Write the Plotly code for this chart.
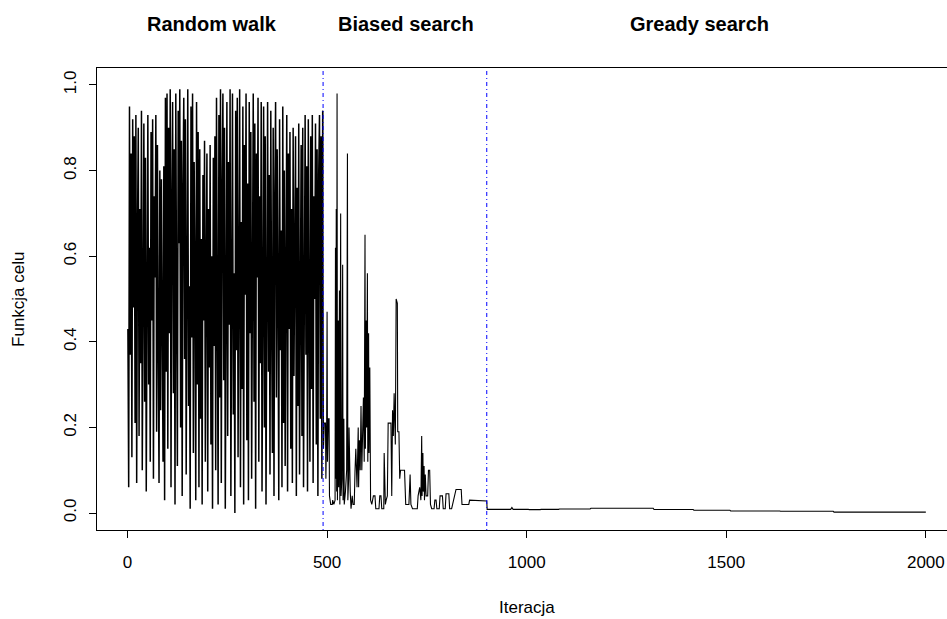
import plotly.graph_objects as go

# ---- data -------------------------------------------------------------
# Random walk phase: iterations 1..489 (every 2nd iteration)
rw_iter = list(range(1, 490, 2))
rw_val = [
    0.43, 0.06, 0.95, 0.37, 0.84, 0.13, 0.92, 0.48, 0.88, 0.21,
    0.93, 0.07, 0.66, 0.90, 0.18, 0.71, 0.35, 0.94, 0.10, 0.58,
    0.91, 0.26, 0.83, 0.05, 0.77, 0.93, 0.30, 0.62, 0.12, 0.89,
    0.45, 0.92, 0.08, 0.74, 0.55, 0.93, 0.19, 0.86, 0.40, 0.07,
    0.80, 0.24, 0.78, 0.51, 0.12, 0.81, 0.03, 0.97, 0.33, 0.98,
    0.15, 0.90, 0.42, 0.99, 0.06, 0.72, 0.96, 0.28, 0.85, 0.02,
    0.98, 0.47, 0.11, 0.94, 0.63, 0.99, 0.20, 0.87, 0.04, 0.76,
    0.97, 0.36, 0.92, 0.09, 0.68, 0.99, 0.25, 0.53, 0.01, 0.95,
    0.41, 0.98, 0.14, 0.82, 0.57, 0.03, 0.96, 0.30, 0.89, 0.06,
    0.85, 0.22, 0.64, 0.02, 0.79, 0.45, 0.87, 0.12, 0.58, 0.84,
    0.05, 0.71, 0.34, 0.86, 0.16, 0.60, 0.01, 0.83, 0.39, 0.88,
    0.10, 0.97, 0.48, 0.02, 0.93, 0.27, 0.99, 0.07, 0.75, 0.98,
    0.31, 0.90, 0.01, 0.66, 0.96, 0.18, 0.82, 0.44, 0.99, 0.04,
    0.72, 0.98, 0.23, 0.56, 0.00, 0.94, 0.38, 0.97, 0.13, 0.81,
    0.99, 0.06, 0.68, 0.29, 0.95, 0.02, 0.86, 0.51, 0.98, 0.17,
    0.77, 0.03, 0.96, 0.42, 0.89, 0.08, 0.63, 0.98, 0.26, 0.91,
    0.01, 0.84, 0.55, 0.97, 0.12, 0.74, 0.35, 0.96, 0.05, 0.69,
    0.95, 0.20, 0.88, 0.02, 0.60, 0.96, 0.33, 0.79, 0.09, 0.94,
    0.46, 0.14, 0.90, 0.04, 0.73, 0.96, 0.27, 0.85, 0.52, 0.03,
    0.92, 0.38, 0.66, 0.06, 0.95, 0.21, 0.80, 0.11, 0.57, 0.93,
    0.05, 0.84, 0.43, 0.89, 0.15, 0.71, 0.07, 0.90, 0.32, 0.62,
    0.88, 0.04, 0.76, 0.25, 0.91, 0.09, 0.55, 0.86, 0.18, 0.90,
    0.06, 0.67, 0.93, 0.37, 0.81, 0.05, 0.92, 0.47, 0.12, 0.88,
    0.29, 0.93, 0.07, 0.74, 0.50, 0.91, 0.16, 0.85, 0.04, 0.79,
    0.93, 0.22, 0.88, 0.08, 0.94,
]

# Biased search phase
bs_iter = [491, 493, 496, 497, 499, 500, 501, 503, 505, 506, 509, 513, 514, 517, 520,
           521, 522, 523, 524, 525, 526, 528, 529, 531, 532, 534, 535, 537, 539, 540,
           542, 543, 546, 549, 551, 552, 554, 555, 556, 558, 560, 563, 565, 568, 570,
           572, 575, 578, 579, 581, 583, 585, 587, 589, 591, 593, 595, 596, 598, 599,
           601, 602, 604, 605, 607, 609, 612, 616, 620, 622, 630, 632, 635, 637, 642,
           643, 646, 648, 651, 653, 660, 662, 664, 666, 668, 671, 673, 676, 677, 680,
           682, 684, 694, 697, 702, 705, 708, 710, 714, 722, 726, 728, 732, 735, 737,
           738, 740, 741, 743, 744, 746, 748, 752, 754, 757, 759, 762, 768, 770, 773,
           775, 781, 783, 787, 789, 791, 796, 798, 805, 807, 812, 823, 836, 838, 855,
           857, 900]
bs_val = [0.15, 0.21, 0.21, 0.08, 0.21, 0.47, 0.12, 0.22, 0.22, 0.04, 0.02, 0.02, 0.03, 0.02, 0.03,
          0.62, 0.08, 0.71, 0.05, 0.98, 0.03, 0.45, 0.06, 0.52, 0.02, 0.70, 0.04, 0.08, 0.58, 0.03,
          0.22, 0.02, 0.05, 0.10, 0.84, 0.03, 0.08, 0.20, 0.08, 0.05, 0.01, 0.04, 0.02, 0.02, 0.10,
          0.15, 0.06, 0.20, 0.06, 0.17, 0.10, 0.25, 0.10, 0.20, 0.27, 0.12, 0.65, 0.15, 0.45, 0.20,
          0.56, 0.12, 0.42, 0.14, 0.34, 0.03, 0.02, 0.04, 0.04, 0.01, 0.01, 0.04, 0.04, 0.01, 0.01,
          0.14, 0.02, 0.03, 0.04, 0.21, 0.21, 0.04, 0.24, 0.18, 0.28, 0.16, 0.50, 0.49, 0.19, 0.19,
          0.08, 0.10, 0.10, 0.02, 0.02, 0.02, 0.09, 0.02, 0.01, 0.01, 0.01, 0.04, 0.06, 0.03, 0.18,
          0.04, 0.14, 0.05, 0.11, 0.03, 0.09, 0.04, 0.04, 0.10, 0.10, 0.02, 0.01, 0.01, 0.03, 0.03,
          0.01, 0.01, 0.04, 0.04, 0.04, 0.01, 0.01, 0.045, 0.045, 0.01, 0.01, 0.055, 0.055, 0.02, 0.02,
          0.03, 0.028]

# Greedy search phase
gs_iter = [901, 960, 963, 966, 1004, 1006, 1034, 1036, 1080, 1082, 1159, 1161, 1317, 1319,
           1417, 1419, 1509, 1511, 1634, 1636, 1768, 1770, 2000]
gs_val = [0.0086, 0.0086, 0.013, 0.0086, 0.0086, 0.0080, 0.0080, 0.0085, 0.0085, 0.0093,
          0.0093, 0.011, 0.011, 0.0082, 0.0082, 0.0066, 0.0066, 0.0047, 0.0047, 0.0040,
          0.0040, 0.0020, 0.0020]

phase_bounds = [490, 900]
phase_titles = ["Random walk", "Biased search", "Gready search"]
phase_title_x = [212, 698, 1434]

x_ticks = [0, 500, 1000, 1500, 2000]
y_ticks = [0.0, 0.2, 0.4, 0.6, 0.8, 1.0]
y_tick_text = ["0.0", "0.2", "0.4", "0.6", "0.8", "1.0"]

# ---- figure -----------------------------------------------------------
FONT = "Liberation Sans, Arial, Helvetica, sans-serif"

fig = go.Figure()
# dense random-walk part (drawn a bit heavier, like the saturated band in the original)
fig.add_trace(go.Scatter(x=rw_iter, y=rw_val, mode="lines",
                         line=dict(color="black", width=1.5), hoverinfo="skip"))
# the rest of the series, continuing from the last random-walk point
tail_x = rw_iter[-1:] + bs_iter + gs_iter
tail_y = rw_val[-1:] + bs_val + gs_val
fig.add_trace(go.Scatter(x=tail_x, y=tail_y, mode="lines",
                         line=dict(color="black", width=1.1), hoverinfo="skip"))

for b in phase_bounds:
    fig.add_shape(type="line", xref="x", yref="paper", x0=b, x1=b, y0=0, y1=1,
                  line=dict(color="blue", width=1, dash="1px,3px,4px,3px"))

for t, xp in zip(phase_titles, phase_title_x):
    fig.add_annotation(text="<b>%s</b>" % t, xref="x", yref="paper", x=xp, y=1.095,
                       showarrow=False, xanchor="center", yanchor="middle",
                       font=dict(family=FONT, size=20, color="black"))

fig.add_annotation(text="Funkcja celu", xref="paper", yref="paper", x=-0.093, y=0.5,
                   textangle=-90, showarrow=False, xanchor="center", yanchor="middle",
                   font=dict(family=FONT, size=17, color="black"))
fig.add_annotation(text="Iteracja", xref="x", yref="paper", x=1000, y=-0.167,
                   showarrow=False, xanchor="center", yanchor="middle",
                   font=dict(family=FONT, size=17, color="black"))

fig.update_layout(
    width=947, height=619,
    margin=dict(l=97, r=0, t=68, b=89, pad=0),
    paper_bgcolor="white", plot_bgcolor="white",
    showlegend=False,
    font=dict(family=FONT, size=17, color="black"),
    xaxis=dict(range=[-76.4, 2053], tickvals=x_ticks, ticks="outside", ticklen=7,
               tickwidth=1, tickcolor="black", showline=True, linecolor="black",
               linewidth=1, mirror=True, showgrid=False, zeroline=False,
               ticklabelstandoff=10, tickfont=dict(family=FONT, size=17)),
    yaxis=dict(range=[-0.0397, 1.0397], tickvals=y_ticks, ticktext=y_tick_text,
               ticks="outside", ticklen=7, tickwidth=1, tickcolor="black",
               showline=True, linecolor="black", linewidth=1, mirror=False,
               showgrid=False, zeroline=False, tickangle=-90,
               ticklabelstandoff=6, tickfont=dict(family=FONT, size=17)),
)

fig.write_html("out.html")
